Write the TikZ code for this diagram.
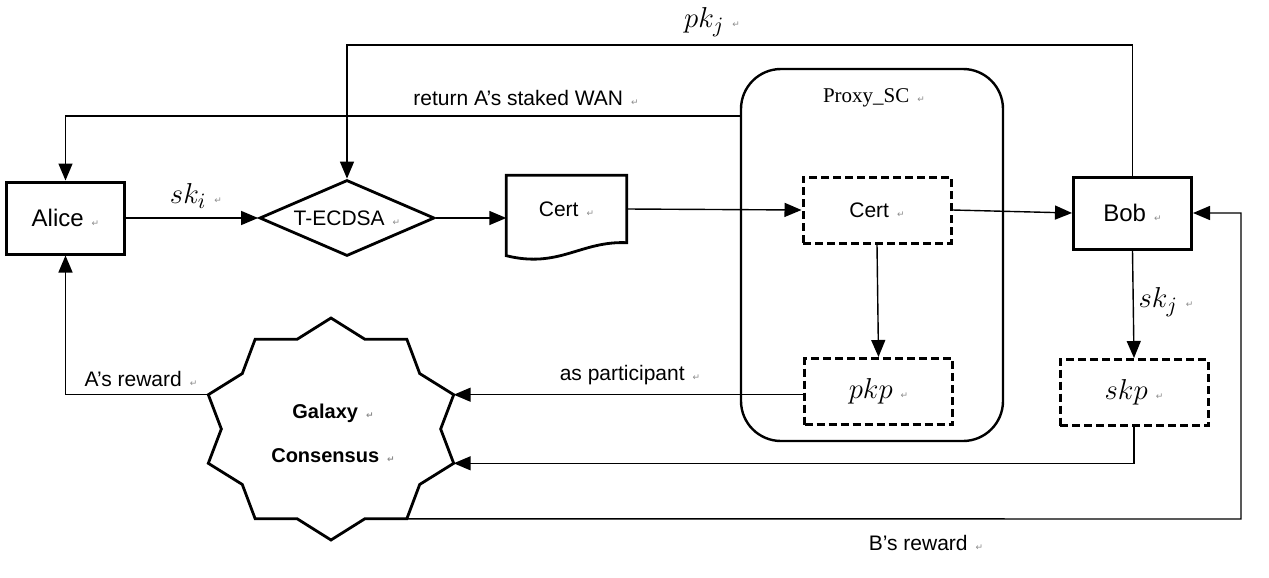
\documentclass[tikz,border=0pt]{standalone}
\usepackage{fontspec}
\setmainfont{Liberation Sans}
\newfontfamily\proxyfont{Liberation Serif}
\newfontfamily\markfont{DejaVu Sans}
\usetikzlibrary{positioning}
\usetikzlibrary{shapes.geometric}
\usetikzlibrary{arrows.meta}

\newcommand{\pmark}{\hspace{4pt}{\markfont\fontsize{4.5}{5}\selectfont\color{black!45}↵}}

\begin{document}
\begin{tikzpicture}[x=0.5pt, y=-0.5pt, line width=0.7pt,
                          font=\fontsize{10.5}{13}\selectfont,
                          >={Triangle[length=8.5pt,width=7pt]},
                          solidbox/.style={rectangle, draw, line width=1.5pt, font=\fontsize{12}{14}\selectfont, minimum width=59pt, minimum height=36pt},
                          dashedbox/.style={rectangle, draw, line width=1.5pt, dash pattern=on 4pt off 2pt, minimum width=74pt, minimum height=33pt},
                          decision/.style={diamond, draw, line width=1.4pt, aspect=2.3, minimum width=87.5pt, minimum height=38pt, inner sep=1pt},
                          docnode/.style={rectangle, minimum width=59.5pt, minimum height=33pt},
                          proxybox/.style={rectangle, draw, line width=1.2pt, rounded corners=20pt, minimum width=131pt, minimum height=186pt},
                          mathlabel/.style={font=\fontsize{15}{18}\selectfont},
                          seal/.style={line width=1.4pt},
                      ]
                      \useasboundingbox (0,0) rectangle (1269,578);

                      %Nodes
                      \node[proxybox]   (proxy)    at (872,255)   {};
                      \node[font=\fontsize{10.5}{13}\selectfont\proxyfont] (proxylabel) at (874,98) {Proxy\_SC\pmark};
                      \node[solidbox]   (alice)    at (65.5,218)  {Alice\pmark};
                      \node[decision]   (tecdsa)   at (347,218)   {T-ECDSA\pmark};
                      \node[docnode]    (certdoc)  at (566.5,209) {Cert\pmark};
                      \node[dashedbox]  (certsc)   at (877,210)   {Cert\pmark};
                      \node[dashedbox]  (pkp)      at (878.5,391.5) {\fontsize{15}{18}\selectfont$pkp$\pmark};
                      \node[solidbox]   (bob)      at (1132.5,213) {Bob\pmark};
                      \node[dashedbox]  (skp)      at (1134,392.5) {\fontsize{15}{18}\selectfont$skp$\pmark};

                      %Document outline
                      \draw[line width=1.4pt] ([yshift=-6.5pt]certdoc.south west) -- (certdoc.north west) -- (certdoc.north east) -- (certdoc.south east)
                            .. controls +(-46,-2) and +(53,13) .. ([yshift=-6.5pt]certdoc.south west) -- cycle;

                      %Seal
                      \coordinate (gc) at (331,429);
                      \foreach \k in {0,...,19} {
                          \pgfmathsetmacro{\rad}{ifthenelse(mod(\k,2)==1,1,0.85)}
                          \path (gc) ++(18*\k:{129*\rad} and {111*\rad}) coordinate (g\k);
                      }
                      \draw[seal] (g0) \foreach \k in {1,...,19} { -- (g\k) } -- cycle;
                      \node[font=\fontsize{10}{12}\selectfont\bfseries, align=center] (galaxy) at (333,433) {Galaxy\pmark\\[10pt]Consensus\pmark};

                      %Labels
                      \node[mathlabel] (ski)     at (196,196)  {$sk_i$\pmark};
                      \node[mathlabel] (pkj)     at (712,22)   {$pk_j$\pmark};
                      \node[mathlabel] (skj)     at (1166,302) {$sk_j$\pmark};
                      \node            (retlab)  at (526,98)   {return A's staked WAN\pmark};
                      \node            (partlab) at (630,375)  {as participant\pmark};
                      \node            (arewlab) at (141,379)  {A's reward\pmark};
                      \node            (brewlab) at (926,543)  {B's reward\pmark};

                      %Corner points
                      \coordinate (pktop)   at (347,45);
                      \coordinate (retleft) at (65.5,116);
                      \coordinate (breward) at (1241,519);

                      %Lines
                      \draw[->] (alice) -- (tecdsa);
                      \draw[->] (tecdsa.east) -- (tecdsa.east -| certdoc.west);
                      \draw[->] (certdoc.east) -- (certsc.west);
                      \draw[->] (certsc.east) -- (bob.west);
                      \draw[->] (certsc.south) -- (pkp.north);
                      \draw[->] (bob.south) -- (skp.north);
                      \draw[->] (bob.north) |- (pktop) -- (tecdsa.north);
                      \draw[->] (proxy.west |- retleft) -- (retleft) -- (alice.north);
                      \draw[->] (pkp.west |- g19) -- (g19);
                      \draw[->] (skp.south) |- (g1);
                      \draw[->] (g11) -| (alice.south);
                      \draw[->] (g3) -- (breward) |- (bob.east);
                  \end{tikzpicture}
\end{document}
